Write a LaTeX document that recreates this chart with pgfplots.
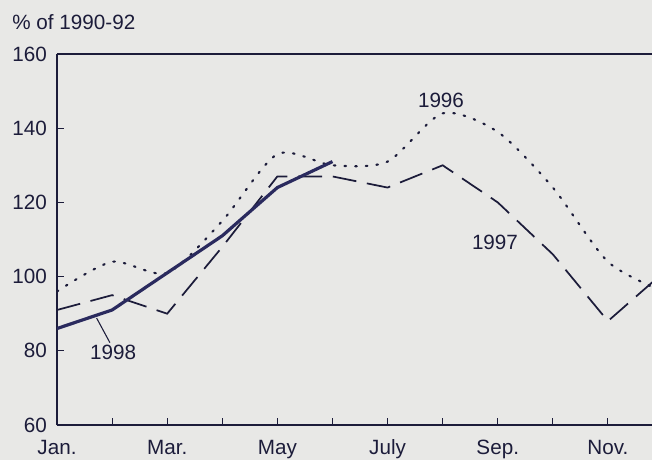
\documentclass[border=0pt]{standalone}
\usepackage{pgfplots}
\pgfplotsset{compat=1.18}
\usepackage{fontspec}
\setmainfont{Liberation Sans}
\definecolor{ink}{HTML}{1C1C3A}
\definecolor{navy}{HTML}{2A2A5E}
\definecolor{bg}{HTML}{E8E8E6}
\begin{document}
\begin{tikzpicture}
\fill[bg] (-42.75pt,-26.25pt) rectangle (446.25pt,318.75pt);
\useasboundingbox (-42.75pt,-26.25pt) rectangle (446.25pt,318.75pt);
\begin{axis}[
  at={(0,0)}, anchor=south west,
  scale only axis, width=446.25pt, height=278.25pt,
  xmin=0, xmax=10.8, ymin=60, ymax=160,
  axis x line=box, axis y line=left,
  axis line style={ink, line width=0.9pt},
  x axis line style={-}, y axis line style={-},
  xtick={0,...,11},
  xticklabels={Jan.,,Mar.,,May,,July,,Sep.,,Nov.,},
  xtick pos=bottom,
  ytick={60,80,...,160},
  tick align=inside, major tick length=5pt,
  tick style={ink, line width=0.7pt},
  /pgf/number format/assume math mode=true,
  tick label style={font=\fontsize{15.5}{18}\selectfont, text=ink},
  xticklabel style={anchor=base, yshift=-22pt},
  yticklabel style={xshift=-4pt},
]
\addplot[ink, line width=1.6pt, dash pattern=on 1.2pt off 6.8pt, line cap=round, smooth, tension=0.45] coordinates {
 (0,96) (1,104) (2,101) (3,115) (4,133) (5,130) (6,131) (7,144) (8,139) (9,124) (10,104) (11,96)};
\addplot[ink, line width=1.3pt, dash pattern=on 18pt off 8pt] coordinates {
 (0,91) (1,95) (2,90) (3,108) (4,127) (5,127) (6,124) (7,130) (8,120) (9,106) (10,88) (11,101)};
\addplot[navy, line width=2.4pt, line join=round] coordinates {
 (0,86) (1,91) (2,101) (3,111) (4,124) (5,131)};
\node[text=ink, font=\fontsize{15.5}{18}\selectfont] at (axis cs:6.97,147.6) {1996};
\node[text=ink, font=\fontsize{15.5}{18}\selectfont] at (axis cs:7.95,109.3) {1997};
\node[text=ink, font=\fontsize{15.5}{18}\selectfont] at (axis cs:1.02,79.7) {1998};
\draw[ink, line width=0.8pt] (axis cs:0.72,88.8) -- (axis cs:0.96,82.2);
\end{axis}
\node[anchor=west, text=ink, font=\fontsize{15.5}{18}\selectfont] at (-37pt,302.25pt) {\% of 1990-92};
\end{tikzpicture}
\end{document}
